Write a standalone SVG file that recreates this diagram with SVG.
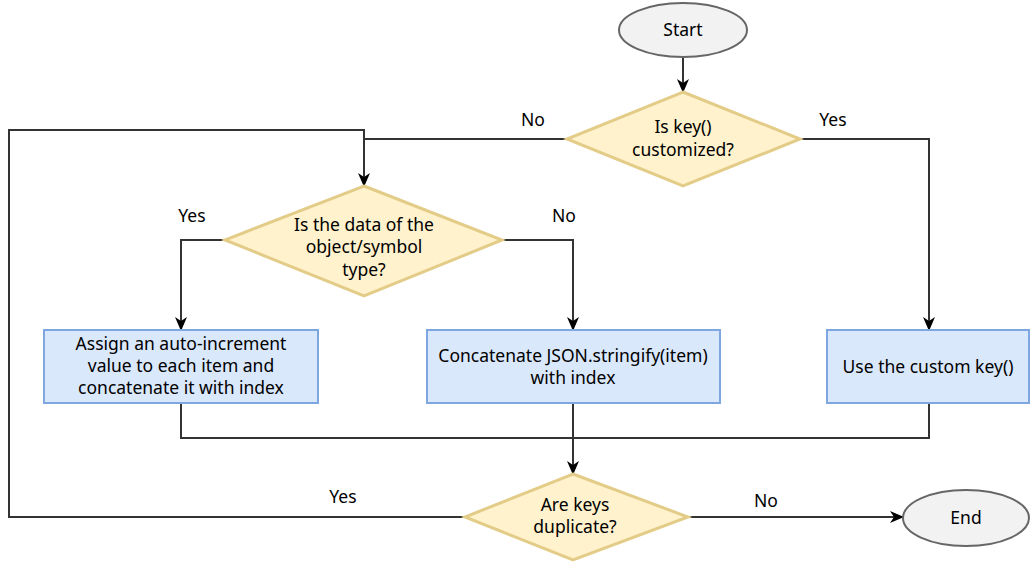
<svg xmlns="http://www.w3.org/2000/svg" width="1031" height="563" viewBox="0 0 1031 563">
<style>
text{font-family:"Noto Sans","Liberation Sans",sans-serif;font-size:17.5px;fill:#000;text-anchor:middle}
.term{fill:#f2f2f2;stroke:#666;stroke-width:2}
.dec{fill:#fff2cc;stroke:#e3cc88;stroke-width:3}
.proc{fill:#dae8fc;stroke:#7ea6e0;stroke-width:2}
.edge{fill:none;stroke:#333;stroke-width:2}
</style>
<defs>
<marker id="arr" viewBox="0 0 14 14" refX="13" refY="7" markerWidth="14" markerHeight="14" orient="auto" markerUnits="userSpaceOnUse">
<path d="M0,1 L14,7 L0,13 L4,7 z" fill="#000"/>
</marker>
</defs>
<rect width="1031" height="563" fill="#fff"/>
<g id="connectors">
<path class="edge" d="M683,57 V92" marker-end="url(#arr)"/>
<path class="edge" d="M567,139 H364 V186" marker-end="url(#arr)"/>
<path class="edge" d="M800,139 H929 V330" marker-end="url(#arr)"/>
<path class="edge" d="M465,517 H9 V130 H364 V139"/>
<path class="edge" d="M225,240 H181 V330" marker-end="url(#arr)"/>
<path class="edge" d="M502,240 H573 V330" marker-end="url(#arr)"/>
<path class="edge" d="M181,403 V438 H929 V403"/>
<path class="edge" d="M573,403 V474" marker-end="url(#arr)"/>
<path class="edge" d="M688,517 H903" marker-end="url(#arr)"/>
<text x="533" y="126">No</text>
<text x="833" y="126">Yes</text>
<text x="192" y="222">Yes</text>
<text x="564" y="222">No</text>
<text x="343" y="503">Yes</text>
<text x="766" y="507">No</text>
</g>
<g id="start">
<ellipse class="term" cx="683" cy="30" rx="64" ry="27"/>
<text x="683" y="36">Start</text>
</g>
<g id="d1">
<polygon class="dec" points="683,92 800,139 683,186 567,139"/>
<text x="683" y="133">Is key()</text>
<text x="683" y="156">customized?</text>
</g>
<g id="d2">
<polygon class="dec" points="364,186 502,240 364,296 225,240"/>
<text x="364" y="231">Is the data of the</text>
<text x="364" y="253">object/symbol</text>
<text x="364" y="276">type?</text>
</g>
<g id="b1">
<rect class="proc" x="44" y="330" width="274" height="73"/>
<text x="181" y="350">Assign an auto-increment</text>
<text x="181" y="372">value to each item and</text>
<text x="181" y="394">concatenate it with index</text>
</g>
<g id="b2">
<rect class="proc" x="427" y="330" width="293" height="73"/>
<text x="573" y="362">Concatenate JSON.stringify(item)</text>
<text x="573" y="384">with index</text>
</g>
<g id="b3">
<rect class="proc" x="827" y="330" width="202" height="73"/>
<text x="928" y="373">Use the custom key()</text>
</g>
<g id="d3">
<polygon class="dec" points="573,474 688,517 573,560 465,517"/>
<text x="575" y="511">Are keys</text>
<text x="575" y="533">duplicate?</text>
</g>
<g id="end">
<ellipse class="term" cx="966" cy="518" rx="63" ry="28"/>
<text x="966" y="524">End</text>
</g>
</svg>
